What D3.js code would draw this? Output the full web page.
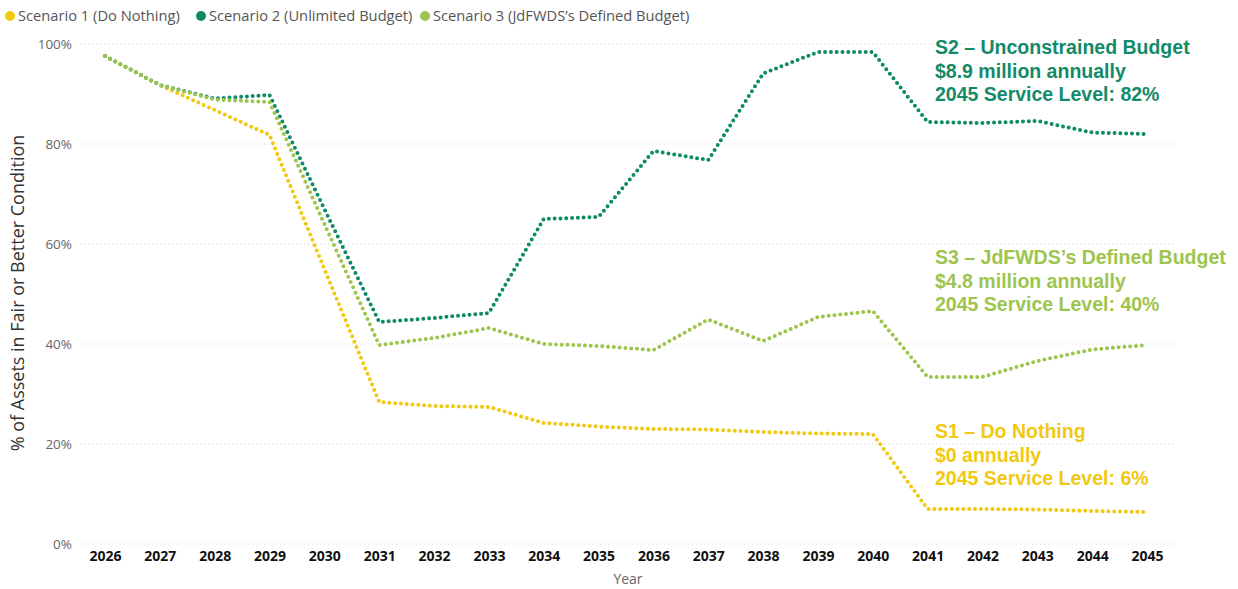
<!DOCTYPE html>
<html>
<head>
<meta charset="utf-8">
<script src="https://cdn.jsdelivr.net/npm/d3@7"></script>
<style>
  html, body { margin: 0; padding: 0; background: #fff; }
  svg { display: block; }
</style>
</head>
<body>
<svg id="chart" width="1238" height="589"></svg>
<script>
// Years on the x axis
const years = [2026, 2027, 2028, 2029, 2030, 2031, 2032, 2033, 2034, 2035,
               2036, 2037, 2038, 2039, 2040, 2041, 2042, 2043, 2044, 2045];

// % of assets in fair or better condition, per scenario
const doNothing = [97.6, 91.8, 86.8, 81.8, 55.0, 28.4, 27.6, 27.4, 24.2, 23.5,
                   23.0, 22.9, 22.4, 22.1, 22.0, 7.0, 7.0, 6.9, 6.6, 6.4];
const unlimited = [97.6, 91.8, 89.1, 89.8, 67.0, 44.4, 45.2, 46.2, 65.0, 65.4,
                   78.6, 76.8, 94.1, 98.4, 98.4, 84.4, 84.2, 84.6, 82.3, 82.0];
const defined   = [97.6, 91.8, 88.9, 88.4, 64.0, 39.8, 41.2, 43.2, 40.0, 39.6,
                   38.8, 44.9, 40.6, 45.4, 46.6, 33.4, 33.4, 36.6, 38.9, 39.8];

const seriesNames = ["Scenario 1 (Do Nothing)", "Scenario 2 (Unlimited Budget)", "Scenario 3 (JdFWDS\u2019s Defined Budget)"];
const seriesColors = ["#F2C811", "#0F8A68", "#9DC54E"];
const seriesValues = [doNothing, unlimited, defined];

const yTicks = [0, 20, 40, 60, 80, 100];

// Annotation text blocks
const noteS2 = ["S2 \u2013 Unconstrained Budget", "$8.9 million annually", "2045 Service Level: 82%"];
const noteS3 = ["S3 \u2013 JdFWDS\u2019s Defined Budget", "$4.8 million annually", "2045 Service Level: 40%"];
const noteS1 = ["S1 \u2013 Do Nothing", "$0 annually", "2045 Service Level: 6%"];
const notes = [
  { lines: noteS2, color: "#138A68", top: 54 },
  { lines: noteS3, color: "#9DC54E", top: 264 },
  { lines: noteS1, color: "#F2C811", top: 438 }
];

const svg = d3.select("#chart");
const uiFont = "'Open Sans', 'Noto Sans', sans-serif";

const x = d3.scaleLinear().domain([2026, 2045]).range([105, 1147]);
const y = d3.scaleLinear().domain([0, 100]).range([544, 44]);

// Dotted horizontal gridlines
svg.append("g")
  .selectAll("line")
  .data(yTicks)
  .join("line")
  .attr("x1", 80).attr("x2", 1176)
  .attr("y1", d => y(d)).attr("y2", d => y(d))
  .attr("stroke", "#d4d4d4")
  .attr("stroke-width", 1)
  .attr("stroke-dasharray", "1 3");

// Y axis
const yAxis = svg.append("g")
  .attr("transform", "translate(80,0)")
  .call(d3.axisLeft(y).tickValues(yTicks).tickFormat(d => d + "%").tickSize(0).tickPadding(8));
yAxis.select(".domain").remove();
yAxis.selectAll("text")
  .attr("font-family", uiFont)
  .attr("font-size", 13.5)
  .attr("fill", "#666");

// X axis
const xAxis = svg.append("g")
  .attr("transform", "translate(0,544)")
  .call(d3.axisBottom(x).tickValues(years).tickFormat(d3.format("d")).tickSize(0).tickPadding(7));
xAxis.select(".domain").remove();
xAxis.selectAll("text")
  .attr("font-family", uiFont)
  .attr("font-size", 14)
  .attr("font-weight", 700)
  .attr("fill", "#111");

// Axis titles
svg.append("text")
  .attr("x", 628).attr("y", 584)
  .attr("text-anchor", "middle")
  .attr("font-family", uiFont)
  .attr("font-size", 14)
  .attr("fill", "#666")
  .text("Year");

svg.append("text")
  .attr("transform", "translate(24,293) rotate(-90)")
  .attr("text-anchor", "middle")
  .attr("font-family", uiFont)
  .attr("font-size", 18)
  .attr("fill", "#333")
  .text("% of Assets in Fair or Better Condition");

// Dotted series lines
const line = d3.line()
  .x((d, i) => x(years[i]))
  .y(d => y(d));

svg.append("g")
  .selectAll("path")
  .data(seriesValues)
  .join("path")
  .attr("d", d => line(d))
  .attr("fill", "none")
  .attr("stroke", (d, i) => seriesColors[i])
  .attr("stroke-width", 4)
  .attr("stroke-linecap", "round")
  .attr("stroke-linejoin", "round")
  .attr("stroke-dasharray", "0 5.8");

// Legend
const legendX = [10, 201, 425];
const legend = svg.append("g")
  .selectAll("g")
  .data(seriesNames)
  .join("g")
  .attr("transform", (d, i) => `translate(${legendX[i]},16)`);
legend.append("circle")
  .attr("r", 5)
  .attr("fill", (d, i) => seriesColors[i]);
legend.append("text")
  .attr("x", 8).attr("dy", "0.35em")
  .attr("font-family", uiFont)
  .attr("font-size", 14.7)
  .attr("fill", "#555")
  .text(d => d);

// Annotation blocks
notes.forEach(n => {
  svg.append("text")
    .attr("font-family", "'Liberation Sans', Arial, sans-serif")
    .attr("font-size", 19.5)
    .attr("font-weight", 700)
    .attr("fill", n.color)
    .selectAll("tspan")
    .data(n.lines)
    .join("tspan")
    .attr("x", 935)
    .attr("y", (d, i) => n.top + i * 23.5)
    .text(d => d);
});
</script>
</body>
</html>
